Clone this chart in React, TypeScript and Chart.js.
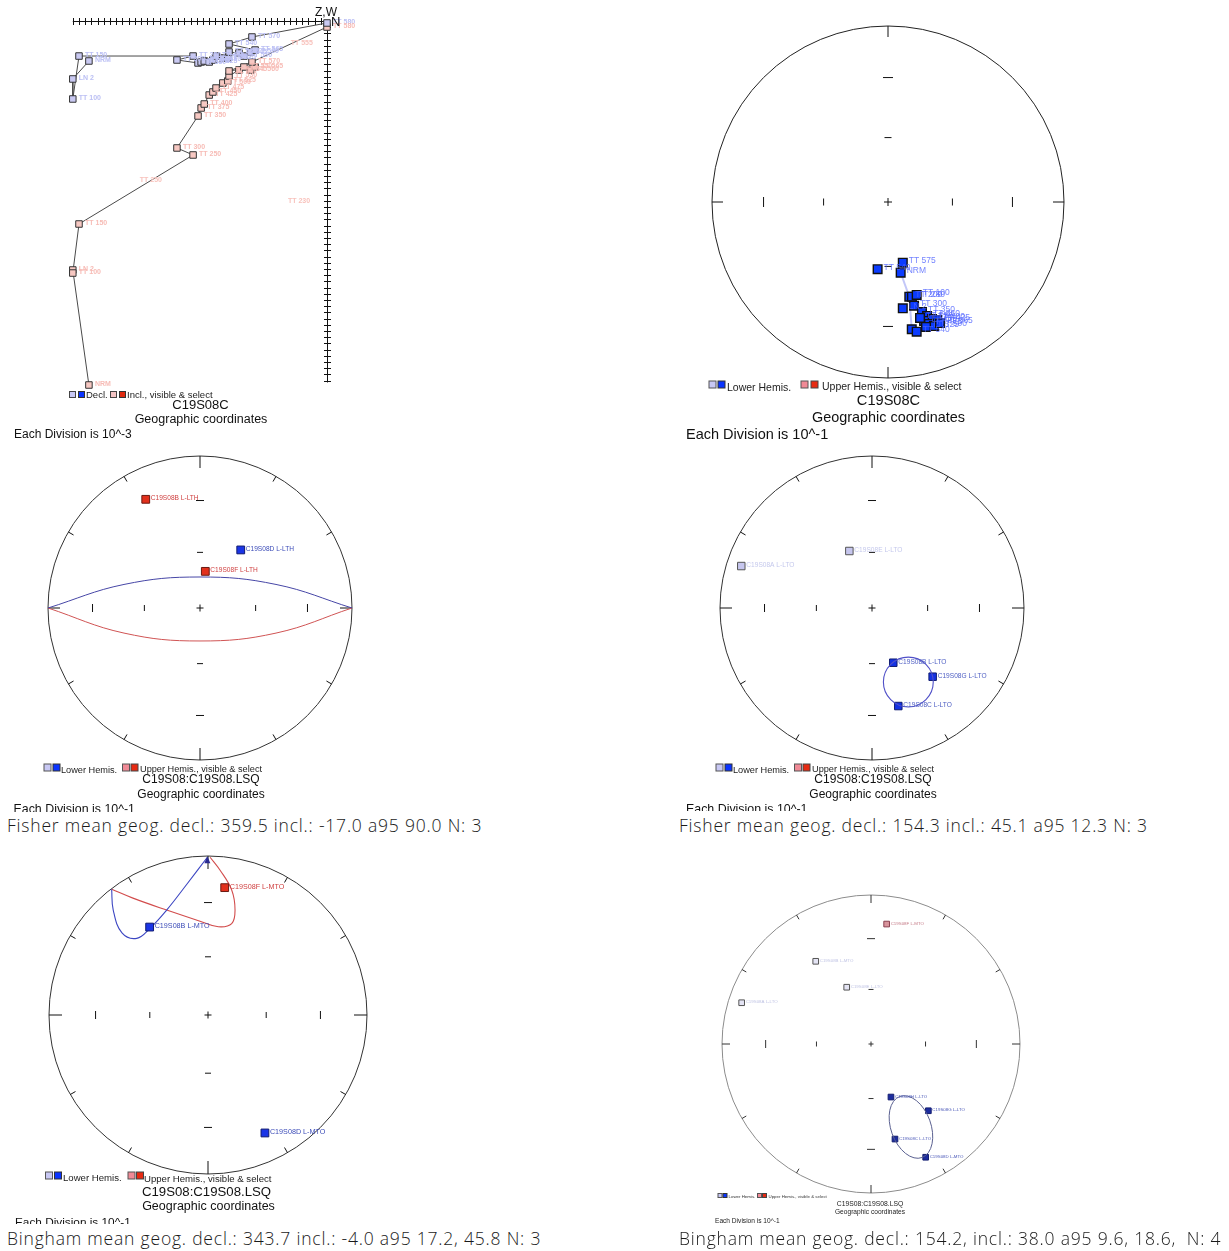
import React, { useEffect, useRef } from "react";
import { Chart, registerables } from "chart.js";

Chart.register(...registerables);

const SANS = '"Liberation Sans", Arial, Helvetica, sans-serif';
const CAPTION_FONT = '"Open Sans", Lato, sans-serif';

// ---------- Panel 1: orthogonal (Zijderveld) plot, values in divisions (10^-3) ----------
const zijSteps = ["NRM", "LN 2", "TT 100", "TT 150", "TT 250", "TT 300", "TT 350", "TT 375", "TT 400", "TT 425", "TT 450", "TT 475", "TT 500", "TT 525", "TT 530", "TT 545", "TT 550", "TT 560", "TT 565", "TT 540", "TT 570", "TT 580"];
const zijHoriz = [-38.4, -41.0, -41.0, -40.0, -21.6, -24.2, -20.8, -20.3, -19.8, -19.0, -18.4, -17.9, -16.8, -16.0, -15.8, -14.2, -13.4, -12.3, -11.6, -15.8, -12.1, 0.0];
const zijDecl = [-6.45, -9.35, -12.58, -5.65, -5.65, -6.29, -6.77, -6.61, -6.45, -6.61, -6.29, -5.65, -5.97, -5.97, -5.0, -5.16, -5.65, -5.0, -4.68, -3.71, -2.58, -0.32];
const zijIncl = [-58.71, -40.16, -40.65, -32.74, -21.61, -20.48, -15.32, -14.03, -13.39, -11.94, -11.45, -10.81, -10.0, -9.68, -8.87, -7.9, -7.42, -7.9, -7.42, -8.06, -6.61, -0.97];
const zijStrayLabels = ["TT 250", "TT 230", "TT 555"];
const zijStrayX = [-30.2, -6.3, -5.85];
const zijStrayY = [-25.6, -29.0, -3.5];
const zijHTickCount = 41;
const zijVTickCount = 58;

// ---------- Stereonet inclination tick marks (degrees) ----------
const netIncTicks = [30, 60];

// ---------- Panel 2: equal-area, C19S08C ----------
const net2X = [0.084, -0.059, 0.072, 0.121, 0.136, 0.163, 0.084, 0.148, 0.193, 0.222, 0.250, 0.278, 0.205, 0.233, 0.261, 0.295, 0.216, 0.182, 0.135, 0.163];
const net2Y = [-0.345, -0.382, -0.402, -0.538, -0.538, -0.528, -0.604, -0.589, -0.625, -0.648, -0.665, -0.670, -0.676, -0.693, -0.705, -0.688, -0.710, -0.659, -0.723, -0.737];
const net2Labels = ["TT 575", "TT 540", "NRM", "TT 200", "TT 230", "TT 100", "LN 2", "TT 300", "TT 350", "TT 360", "TT 400", "TT 425", "TT 450", "TT 475", "TT 500", "TT 565", "TT 525", "TT 550", "", "TT 540"];
const net2TrackX = [0.084, 0.072, 0.121, 0.135];
const net2TrackY = [-0.345, -0.402, -0.538, -0.723];

// ---------- Panel 3: L-LTH directions with great circles ----------
const net3X = [-0.357, 0.268, 0.035];
const net3Y = [0.715, 0.382, 0.241];
const net3Labels = ["C19S08B L-LTH", "C19S08D L-LTH", "C19S08F L-LTH"];
const net3Upper = [true, false, true];
const gc3BlueX = [-1, -0.5, 0, 0.5, 1];
const gc3BlueY = [0, 0.155, 0.204, 0.155, 0];
const gc3RedX = [-1, -0.5, 0, 0.5, 1];
const gc3RedY = [0, -0.165, -0.217, -0.165, 0];

// ---------- Panel 4: L-LTO directions, Fisher mean ----------
const net4X = [-0.860, -0.149, 0.140, 0.399, 0.173];
const net4Y = [0.276, 0.375, -0.360, -0.452, -0.645];
const net4Labels = ["C19S08A L-LTO", "C19S08E L-LTO", "C19S08B L-LTO", "C19S08G L-LTO", "C19S08C L-LTO"];
const net4Faded = [true, true, false, false, false];
const net4ConeCenter = [0.239, -0.487];
const net4ConeRadius = 0.164;

// ---------- Panel 5: L-MTO directions, Bingham ----------
const net5X = [0.105, -0.367, 0.358];
const net5Y = [0.801, 0.553, -0.742];
const net5Labels = ["C19S08F L-MTO", "C19S08B L-MTO", "C19S08D L-MTO"];
const net5Upper = [true, false, false];
const ell5BlueX = [-0.004, -0.132, -0.260, -0.365, -0.448, -0.541, -0.596, -0.606];
const ell5BlueY = [0.992, 0.824, 0.660, 0.545, 0.482, 0.516, 0.660, 0.791];
const ell5RedX = [-0.606, -0.472, -0.260, -0.050, 0.065, 0.149, 0.170, 0.149, 0.075, 0.013];
const ell5RedY = [0.791, 0.735, 0.660, 0.590, 0.555, 0.575, 0.660, 0.786, 0.912, 0.992];

// ---------- Panel 6: all directions, Bingham ----------
const net6X = [0.105, -0.371, -0.163, -0.868, 0.134, 0.385, 0.161, 0.367];
const net6Y = [0.805, 0.555, 0.381, 0.277, -0.356, -0.448, -0.638, -0.760];
const net6Labels = ["C19S08F L-MTO", "C19S08B L-MTO", "C19S08E L-LTO", "C19S08A L-LTO", "C19S08H L-LTO", "C19S08G L-LTO", "C19S08C L-LTO", "C19S08D L-MTO"];
const net6Kind = ["upper", "faded", "faded", "faded", "lower", "lower", "lower", "lower"];
const ell6Center = [0.268, -0.557];
const ell6Semi = [0.218, 0.134];
const ell6Azimuth = 160;

// ---------- Captions ----------
const captions = [
  "Fisher mean geog. decl.: 359.5 incl.: -17.0 a95 90.0 N: 3",
  "Fisher mean geog. decl.: 154.3 incl.: 45.1 a95 12.3 N: 3",
  "Bingham mean geog. decl.: 343.7 incl.: -4.0 a95 17.2, 45.8 N: 3",
  "Bingham mean geog. decl.: 154.2, incl.: 38.0 a95 9.6, 18.6,  N: 4",
];

// ================= helpers =================
function pts(xs: number[], ys: number[]) {
  return xs.map((x, i) => ({ x, y: ys[i] }));
}

function txt(ctx: CanvasRenderingContext2D, L: number, T: number, t: string, x: number, y: number, size: number, color = "#111", align: CanvasTextAlign = "left", weight = "normal") {
  ctx.font = `${weight} ${size}px ${SANS}`;
  ctx.fillStyle = color;
  ctx.textAlign = align;
  ctx.textBaseline = "middle";
  ctx.fillText(t, x - L, y - T);
}

function sq(ctx: CanvasRenderingContext2D, L: number, T: number, x: number, y: number, s: number, fill: string, stroke: string) {
  ctx.fillStyle = fill;
  ctx.fillRect(x - L - s / 2, y - T - s / 2, s, s);
  ctx.strokeStyle = stroke;
  ctx.lineWidth = 1;
  ctx.strokeRect(x - L - s / 2, y - T - s / 2, s, s);
}

function netGeom(left: number, top: number, width: number, height: number, cx: number, cy: number, R: number) {
  return {
    left, top, width, height,
    xMin: (left - cx) / R, xMax: (left + width - cx) / R,
    yMin: (cy - (top + height)) / R, yMax: (cy - top) / R,
  };
}

function netUnder(o: { circle: string; tick: string; lw: number; edge: number; rim: number; tk: number[]; cross: number }) {
  return (ctx: CanvasRenderingContext2D, chart: any) => {
    const xs = chart.scales.x, ys = chart.scales.y;
    const cx = xs.getPixelForValue(0), cy = ys.getPixelForValue(0);
    const R = xs.getPixelForValue(1) - cx;
    ctx.save();
    ctx.lineWidth = o.lw;
    ctx.strokeStyle = o.circle;
    ctx.beginPath();
    ctx.arc(cx, cy, R, 0, Math.PI * 2);
    ctx.stroke();
    ctx.strokeStyle = o.tick;
    ctx.lineWidth = 1;
    ctx.beginPath();
    for (let a = 0; a < 360; a += 30) {
      const len = a % 90 === 0 ? o.edge : o.rim;
      if (!len) continue;
      const s = Math.sin((a * Math.PI) / 180), c = Math.cos((a * Math.PI) / 180);
      ctx.moveTo(cx + s * R, cy - c * R);
      ctx.lineTo(cx + s * (R - len), cy - c * (R - len));
    }
    netIncTicks.forEach((inc, i) => {
      const r = Math.SQRT2 * Math.sin((((90 - inc) / 2) * Math.PI) / 180) * R;
      const h = o.tk[i];
      for (const sg of [-1, 1]) {
        ctx.moveTo(cx + sg * r, cy - h);
        ctx.lineTo(cx + sg * r, cy + h);
        ctx.moveTo(cx - h, cy + sg * r);
        ctx.lineTo(cx + h, cy + sg * r);
      }
    });
    ctx.moveTo(cx - o.cross, cy);
    ctx.lineTo(cx + o.cross, cy);
    ctx.moveTo(cx, cy - o.cross);
    ctx.lineTo(cx, cy + o.cross);
    ctx.stroke();
    ctx.restore();
  };
}

function drawLabels(ctx: CanvasRenderingContext2D, chart: any, xs: number[], ys: number[], labels: string[], colors: string[] | string, size: number, dx: number, dy: number, weight = "normal") {
  const sx = chart.scales.x, sy = chart.scales.y;
  ctx.save();
  ctx.font = `${weight} ${size}px ${SANS}`;
  ctx.textAlign = "left";
  ctx.textBaseline = "middle";
  labels.forEach((l, i) => {
    if (!l) return;
    ctx.fillStyle = Array.isArray(colors) ? colors[i] : colors;
    ctx.fillText(l, sx.getPixelForValue(xs[i]) + dx, sy.getPixelForValue(ys[i]) + dy);
  });
  ctx.restore();
}

function hemiLegend(ctx: CanvasRenderingContext2D, L: number, T: number, o: { y: number; x1: number; x2: number; tx1: number; x3: number; x4: number; tx2: number; s: number; fs: number; up: string; ty1: number; ty2: number }) {
  sq(ctx, L, T, o.x1, o.y, o.s, "#c8c8f4", "#555");
  sq(ctx, L, T, o.x2, o.y, o.s, "#0a34ff", "#333");
  txt(ctx, L, T, "Lower Hemis.", o.tx1, o.ty1, o.fs, "#222");
  sq(ctx, L, T, o.x3, o.y, o.s, o.up, "#555");
  sq(ctx, L, T, o.x4, o.y, o.s, "#e62a12", "#444");
  txt(ctx, L, T, "Upper Hemis., visible & select", o.tx2, o.ty2, o.fs, "#222");
}

// ================= panel definitions =================
const P1 = { left: 0, top: 0, width: 360, height: 442, ox: 327, oy: 21, unit: 6.2 };

const panel1 = {
  left: P1.left, top: P1.top, width: P1.width, height: P1.height,
  xMin: (P1.left - P1.ox) / P1.unit, xMax: (P1.left + P1.width - P1.ox) / P1.unit,
  yMin: (P1.oy - (P1.top + P1.height)) / P1.unit, yMax: (P1.oy - P1.top) / P1.unit,
  datasets: [
    {
      data: pts(zijHoriz, zijDecl), showLine: true, borderColor: "#4a4a4a", borderWidth: 1,
      pointStyle: "rect", pointRadius: 4.6, pointBackgroundColor: "#c9c9f2", pointBorderColor: "#333", pointBorderWidth: 1, clip: false,
    },
    {
      data: pts(zijHoriz, zijIncl), showLine: true, borderColor: "#4a4a4a", borderWidth: 1,
      pointStyle: "rect", pointRadius: 4.6, pointBackgroundColor: "#f7c8c2", pointBorderColor: "#333", pointBorderWidth: 1, clip: false,
    },
  ],
  under: (ctx: CanvasRenderingContext2D, chart: any) => {
    const sx = chart.scales.x, sy = chart.scales.y;
    const x0 = sx.getPixelForValue(0), y0 = sy.getPixelForValue(0);
    ctx.save();
    ctx.strokeStyle = "#111";
    ctx.lineWidth = 1;
    ctx.beginPath();
    ctx.moveTo(sx.getPixelForValue(-zijHTickCount), y0 + 0.5);
    ctx.lineTo(x0, y0 + 0.5);
    ctx.moveTo(x0 + 0.5, y0);
    ctx.lineTo(x0 + 0.5, sy.getPixelForValue(-zijVTickCount - 0.3));
    for (let i = 1; i <= zijHTickCount; i++) {
      const px = Math.round(sx.getPixelForValue(-i)) + 0.5;
      ctx.moveTo(px, y0 - 3);
      ctx.lineTo(px, y0 + 4);
    }
    for (let i = 1; i <= zijVTickCount; i++) {
      const py = Math.round(sy.getPixelForValue(-i)) + 0.5;
      ctx.moveTo(x0 - 3, py);
      ctx.lineTo(x0 + 4, py);
    }
    ctx.stroke();
    ctx.restore();
  },
  over: (ctx: CanvasRenderingContext2D, chart: any) => {
    const L = P1.left, T = P1.top;
    drawLabels(ctx, chart, zijHoriz, zijDecl, zijSteps, "#bcc0f4", 7, 6, -1, "bold");
    drawLabels(ctx, chart, zijHoriz, zijIncl, zijSteps, "#f7bcb6", 7, 6, -1, "bold");
    drawLabels(ctx, chart, zijStrayX, zijStrayY, zijStrayLabels, "#f8c2bc", 7, 0, 0, "bold");
    txt(ctx, L, T, "Z,W", 326, 13, 12, "#111", "center");
    txt(ctx, L, T, "N", 331, 22.5, 13, "#111");
    sq(ctx, L, T, 72.5, 394.5, 6, "#c8c8f4", "#444");
    sq(ctx, L, T, 81.5, 394.5, 6, "#0a34ff", "#333");
    txt(ctx, L, T, "Decl.", 86, 395.5, 9.5, "#222");
    sq(ctx, L, T, 113.5, 394.5, 6, "#f4c4c4", "#444");
    sq(ctx, L, T, 122.5, 394.5, 6, "#e02a10", "#333");
    txt(ctx, L, T, "Incl., visible & select", 127, 395.5, 9.5, "#222");
    txt(ctx, L, T, "C19S08C", 200.5, 405, 13, "#111", "center");
    txt(ctx, L, T, "Geographic coordinates", 201, 420, 12.5, "#111", "center");
    txt(ctx, L, T, "Each Division is 10^-3", 14, 435, 12, "#111");
  },
};

const G2 = netGeom(670, 14, 410, 432, 888, 202, 176);
const panel2 = {
  ...G2,
  datasets: [
    {
      data: pts(net2X, net2Y), showLine: false, pointStyle: "rect", pointRadius: 6.1,
      pointBackgroundColor: "#0b3cff", pointBorderColor: "#111", pointBorderWidth: 1.4, clip: false,
    },
    {
      data: pts(net2TrackX, net2TrackY), showLine: true, borderColor: "rgba(170,175,245,0.7)", borderWidth: 2,
      pointRadius: 0, clip: false,
    },
  ],
  under: netUnder({ circle: "#222", tick: "#111", lw: 1, edge: 11, rim: 0, tk: [5, 3.5], cross: 4 }),
  over: (ctx: CanvasRenderingContext2D, chart: any) => {
    const L = G2.left, T = G2.top;
    drawLabels(ctx, chart, net2X, net2Y, net2Labels, "rgba(80,100,255,0.8)", 8.5, 6, -2);
    hemiLegend(ctx, L, T, { y: 384.5, x1: 712.5, x2: 721.5, tx1: 727, ty1: 388, x3: 804.5, x4: 814.5, tx2: 822, ty2: 387.5, s: 7, fs: 10.5, up: "#f08a96" });
    txt(ctx, L, T, "C19S08C", 888.5, 401, 14.6, "#111", "center");
    txt(ctx, L, T, "Geographic coordinates", 888.5, 418, 14.4, "#111", "center");
    txt(ctx, L, T, "Each Division is 10^-1", 686, 434.5, 14.5, "#111");
  },
};

const G3 = netGeom(0, 452, 400, 360, 200, 608, 152);
const panel3 = {
  ...G3,
  datasets: [
    {
      data: pts(net3X, net3Y), showLine: false, pointStyle: "rect", pointRadius: 5.5,
      pointBackgroundColor: net3Upper.map((u) => (u ? "#e2301c" : "#1a34e6")),
      pointBorderColor: net3Upper.map((u) => (u ? "#6a1a12" : "#101a70")), pointBorderWidth: 1, clip: false,
    },
    { data: pts(gc3BlueX, gc3BlueY), showLine: true, tension: 0.4, borderColor: "#4646a6", borderWidth: 1, pointRadius: 0, clip: false },
    { data: pts(gc3RedX, gc3RedY), showLine: true, tension: 0.4, borderColor: "#d05454", borderWidth: 1, pointRadius: 0, clip: false },
  ],
  under: netUnder({ circle: "#333", tick: "#111", lw: 1, edge: 12, rim: 6, tk: [4, 3], cross: 3.5 }),
  over: (ctx: CanvasRenderingContext2D, chart: any) => {
    const L = G3.left, T = G3.top;
    drawLabels(ctx, chart, net3X, net3Y, net3Labels, net3Upper.map((u) => (u ? "#cf3f3f" : "#3c4cb8")), 6.6, 5, -1);
    hemiLegend(ctx, L, T, { y: 767.5, x1: 47.5, x2: 56.5, tx1: 61, ty1: 770.5, x3: 126, x4: 134.5, tx2: 140, ty2: 769.5, s: 7, fs: 9.2, up: "#f08a96" });
    txt(ctx, L, T, "C19S08:C19S08.LSQ", 201, 780, 12, "#111", "center");
    txt(ctx, L, T, "Geographic coordinates", 201, 794.5, 12, "#111", "center");
    txt(ctx, L, T, "Each Division is 10^-1", 13.5, 809.5, 12.4, "#111");
  },
};

const G4 = netGeom(670, 452, 400, 359, 872, 608, 152);
const panel4 = {
  ...G4,
  datasets: [
    {
      data: pts(net4X, net4Y), showLine: false, pointStyle: "rect", pointRadius: 5.3,
      pointBackgroundColor: net4Faded.map((f) => (f ? "#c6c6ee" : "#1432e4")),
      pointBorderColor: net4Faded.map((f) => (f ? "#555" : "#101c70")), pointBorderWidth: 1, clip: false,
    },
  ],
  under: netUnder({ circle: "#333", tick: "#111", lw: 1, edge: 12, rim: 6, tk: [4, 3], cross: 3.5 }),
  over: (ctx: CanvasRenderingContext2D, chart: any) => {
    const L = G4.left, T = G4.top;
    const sx = chart.scales.x, sy = chart.scales.y;
    const ccx = sx.getPixelForValue(net4ConeCenter[0]), ccy = sy.getPixelForValue(net4ConeCenter[1]);
    const rr = sx.getPixelForValue(net4ConeRadius) - sx.getPixelForValue(0);
    ctx.save();
    ctx.strokeStyle = "#5050c8";
    ctx.lineWidth = 1.1;
    ctx.beginPath();
    ctx.arc(ccx, ccy, rr, 0, Math.PI * 2);
    ctx.stroke();
    ctx.restore();
    drawLabels(ctx, chart, net4X, net4Y, net4Labels, net4Faded.map((f) => (f ? "#c4c8ec" : "#5060c4")), 6.6, 5, -1);
    hemiLegend(ctx, L, T, { y: 767.5, x1: 719.5, x2: 728.5, tx1: 733, ty1: 770.5, x3: 798, x4: 806.5, tx2: 812, ty2: 769.5, s: 7, fs: 9.2, up: "#f08a96" });
    txt(ctx, L, T, "C19S08:C19S08.LSQ", 873, 780, 12, "#111", "center");
    txt(ctx, L, T, "Geographic coordinates", 873, 794.5, 12, "#111", "center");
    txt(ctx, L, T, "Each Division is 10^-1", 686, 809.5, 12.4, "#111");
  },
};

const G5 = netGeom(0, 846, 400, 378, 208, 1015, 159);
const panel5 = {
  ...G5,
  datasets: [
    {
      data: pts(net5X, net5Y), showLine: false, pointStyle: "rect", pointRadius: 5.5,
      pointBackgroundColor: net5Upper.map((u) => (u ? "#e2301c" : "#1a34e6")),
      pointBorderColor: net5Upper.map((u) => (u ? "#6a1a12" : "#101a70")), pointBorderWidth: 1, clip: false,
    },
    { data: pts(ell5BlueX, ell5BlueY), showLine: true, tension: 0.4, borderColor: "#3c46c2", borderWidth: 1.1, pointRadius: 0, clip: false },
    { data: pts(ell5RedX, ell5RedY), showLine: true, tension: 0.4, borderColor: "#d24c4c", borderWidth: 1.1, pointRadius: 0, clip: false },
  ],
  under: netUnder({ circle: "#333", tick: "#111", lw: 1, edge: 13, rim: 6, tk: [4, 3], cross: 3.5 }),
  over: (ctx: CanvasRenderingContext2D, chart: any) => {
    const L = G5.left, T = G5.top;
    const sx = chart.scales.x, sy = chart.scales.y;
    const ax = sx.getPixelForValue(ell5BlueX[0]), ay = sy.getPixelForValue(ell5BlueY[0]);
    ctx.save();
    ctx.fillStyle = "#2a2a90";
    ctx.beginPath();
    ctx.moveTo(ax, ay - 1);
    ctx.lineTo(ax - 3, ay + 6);
    ctx.lineTo(ax + 3, ay + 6);
    ctx.closePath();
    ctx.fill();
    ctx.restore();
    drawLabels(ctx, chart, net5X, net5Y, net5Labels, net5Upper.map((u) => (u ? "#cf3f3f" : "#3c4cb8")), 7.2, 5, -1);
    hemiLegend(ctx, L, T, { y: 1175.5, x1: 49, x2: 58, tx1: 63, ty1: 1178.5, x3: 131.5, x4: 140, tx2: 144, ty2: 1179.5, s: 7, fs: 9.6, up: "#f08a96" });
    txt(ctx, L, T, "C19S08:C19S08.LSQ", 206.5, 1192, 13.2, "#111", "center");
    txt(ctx, L, T, "Geographic coordinates", 208.5, 1207, 12.5, "#111", "center");
    txt(ctx, L, T, "Each Division is 10^-1", 15, 1222.5, 11.8, "#111");
  },
};

const G6 = netGeom(670, 886, 400, 342, 871, 1044, 149);
const kindFill: Record<string, string> = { upper: "#d8949c", faded: "#e4e4f4", lower: "#1c2c9e" };
const kindStroke: Record<string, string> = { upper: "#8a4050", faded: "#555", lower: "#141e70" };
const kindText: Record<string, string> = { upper: "#c47a86", faded: "#c0c4e4", lower: "#4a58b8" };
const panel6 = {
  ...G6,
  datasets: [
    {
      data: pts(net6X, net6Y), showLine: false, pointStyle: "rect", pointRadius: 4,
      pointBackgroundColor: net6Kind.map((k) => kindFill[k]),
      pointBorderColor: net6Kind.map((k) => kindStroke[k]), pointBorderWidth: 1, clip: false,
    },
  ],
  under: netUnder({ circle: "#8c8c8c", tick: "#333", lw: 1, edge: 8, rim: 5, tk: [4, 2.5], cross: 2.5 }),
  over: (ctx: CanvasRenderingContext2D, chart: any) => {
    const L = G6.left, T = G6.top;
    const sx = chart.scales.x, sy = chart.scales.y;
    const ex = sx.getPixelForValue(ell6Center[0]), ey = sy.getPixelForValue(ell6Center[1]);
    const unit = sx.getPixelForValue(1) - sx.getPixelForValue(0);
    ctx.save();
    ctx.strokeStyle = "#5a6090";
    ctx.lineWidth = 1;
    ctx.beginPath();
    ctx.ellipse(ex, ey, ell6Semi[0] * unit, ell6Semi[1] * unit, ((ell6Azimuth - 90) * Math.PI) / 180, 0, Math.PI * 2);
    ctx.stroke();
    ctx.restore();
    drawLabels(ctx, chart, net6X, net6Y, net6Labels, net6Kind.map((k) => kindText[k]), 4.4, 4, -0.5);
    sq(ctx, L, T, 720, 1195.5, 4, "#c8c8f4", "#555");
    sq(ctx, L, T, 725, 1195.5, 4, "#0a34ff", "#333");
    txt(ctx, L, T, "Lower Hemis.", 728.5, 1196.5, 4.4, "#333");
    sq(ctx, L, T, 759.5, 1195.5, 4, "#f08a96", "#555");
    sq(ctx, L, T, 764.5, 1195.5, 4, "#e62a12", "#444");
    txt(ctx, L, T, "Upper Hemis., visible & select", 768.5, 1196.5, 4.4, "#333");
    txt(ctx, L, T, "C19S08:C19S08.LSQ", 870, 1204, 6.8, "#222", "center");
    txt(ctx, L, T, "Geographic coordinates", 870, 1212, 6.6, "#222", "center");
    txt(ctx, L, T, "Each Division is 10^-1", 715, 1221.5, 6.6, "#222");
  },
};

const panels = [panel1, panel2, panel3, panel4, panel5, panel6];

function ChartPanel({ def }: { def: any }) {
  const ref = useRef<HTMLCanvasElement>(null);
  useEffect(() => {
    const canvas = ref.current as HTMLCanvasElement;
    const chart = new Chart(canvas, {
      type: "scatter",
      data: { datasets: def.datasets },
      options: {
        responsive: false,
        maintainAspectRatio: false,
        animation: false,
        devicePixelRatio: 1,
        events: [],
        layout: { padding: 0, autoPadding: false },
        plugins: { legend: { display: false }, tooltip: { enabled: false } },
        scales: {
          x: { type: "linear", display: false, min: def.xMin, max: def.xMax },
          y: { type: "linear", display: false, min: def.yMin, max: def.yMax },
        },
      } as any,
      plugins: [
        {
          id: "deco",
          beforeDatasetsDraw(c: any) {
            if (def.under) def.under(c.ctx, c);
          },
          afterDatasetsDraw(c: any) {
            if (def.over) def.over(c.ctx, c);
          },
        },
      ],
    });
    return () => chart.destroy();
  }, []);
  return (
    <canvas
      ref={ref}
      width={def.width}
      height={def.height}
      style={{ position: "absolute", left: def.left, top: def.top, width: def.width, height: def.height }}
    />
  );
}

const captionPos = [
  { left: 7, top: 825 },
  { left: 679, top: 825 },
  { left: 7, top: 1238 },
  { left: 679, top: 1238 },
];

export default function App() {
  return (
    <div style={{ position: "absolute", left: 0, top: 0, width: 1229, height: 1251, background: "#fff", overflow: "hidden" }}>
      {panels.map((p, i) => (
        <ChartPanel key={i} def={p} />
      ))}
      {captions.map((c, i) => (
        <div
          key={"c" + i}
          style={{
            position: "absolute",
            left: captionPos[i].left,
            top: captionPos[i].top - 12,
            height: 24,
            lineHeight: "24px",
            fontFamily: CAPTION_FONT,
            fontSize: 17.5,
            fontWeight: 300,
            letterSpacing: "0.8px",
            color: "#1a1a1a",
            whiteSpace: "pre",
          }}
        >
          {c}
        </div>
      ))}
    </div>
  );
}
